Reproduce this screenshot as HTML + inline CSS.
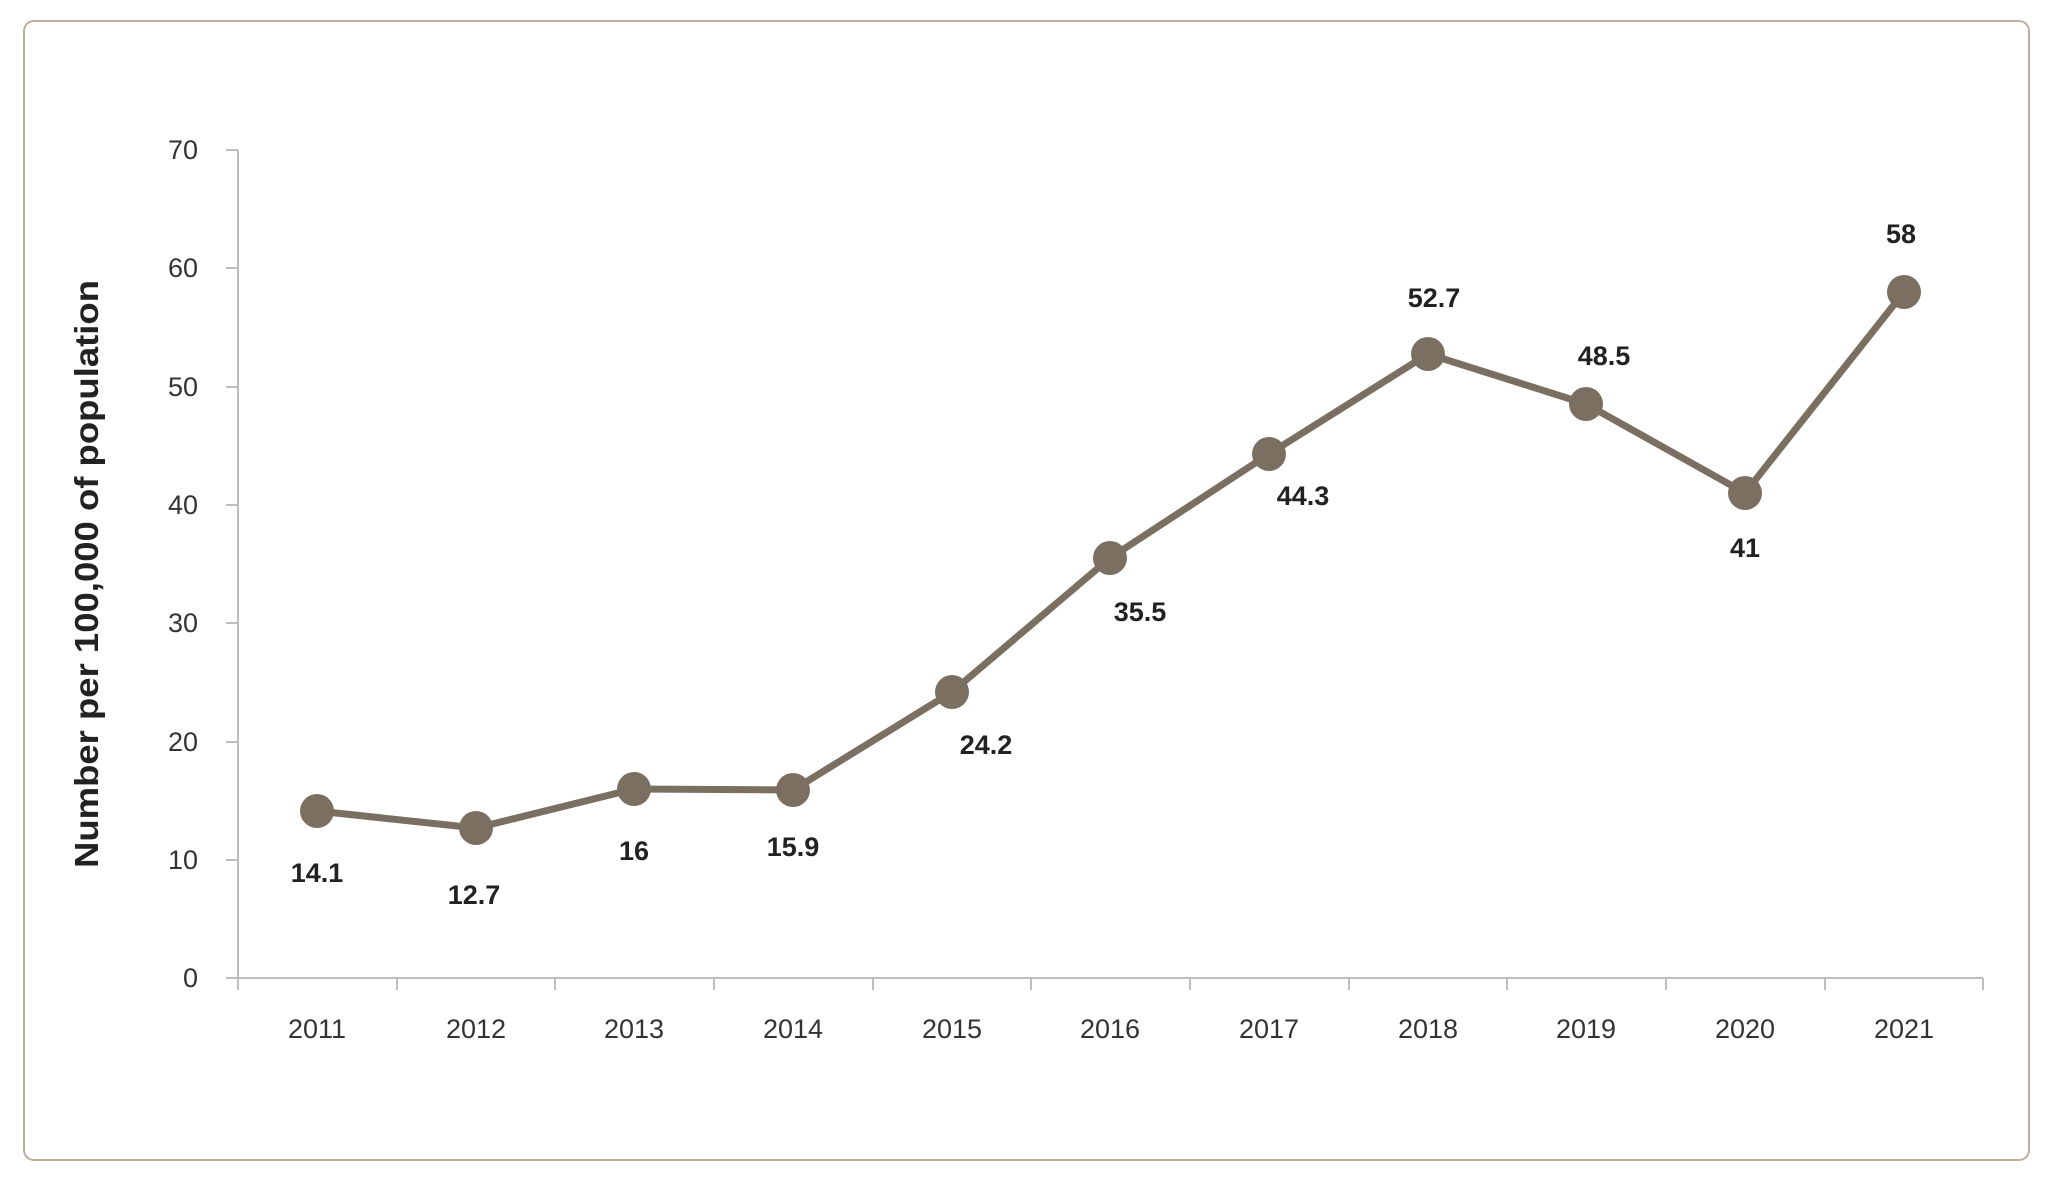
<!DOCTYPE html>
<html><head><style>body{margin:0;background:#fff}</style></head><body>
<svg width="2053" height="1189" xmlns="http://www.w3.org/2000/svg" font-family="'Liberation Sans', sans-serif">
<rect x="24" y="21" width="2005" height="1139" rx="10" fill="#fff" stroke="#bfae9c" stroke-width="2"/>
<g stroke="#bdbdbd" stroke-width="2" fill="none">
<line x1="238" y1="150" x2="238" y2="978"/>
<line x1="238" y1="978" x2="1983" y2="978"/>
<line x1="226" y1="150" x2="238" y2="150"/><line x1="226" y1="268" x2="238" y2="268"/><line x1="226" y1="387" x2="238" y2="387"/><line x1="226" y1="505" x2="238" y2="505"/><line x1="226" y1="623" x2="238" y2="623"/><line x1="226" y1="742" x2="238" y2="742"/><line x1="226" y1="860" x2="238" y2="860"/><line x1="226" y1="978" x2="238" y2="978"/>
<line x1="238" y1="978" x2="238" y2="990"/><line x1="397" y1="978" x2="397" y2="990"/><line x1="555" y1="978" x2="555" y2="990"/><line x1="714" y1="978" x2="714" y2="990"/><line x1="873" y1="978" x2="873" y2="990"/><line x1="1031" y1="978" x2="1031" y2="990"/><line x1="1190" y1="978" x2="1190" y2="990"/><line x1="1349" y1="978" x2="1349" y2="990"/><line x1="1507" y1="978" x2="1507" y2="990"/><line x1="1666" y1="978" x2="1666" y2="990"/><line x1="1825" y1="978" x2="1825" y2="990"/><line x1="1983" y1="978" x2="1983" y2="990"/>
</g>
<g font-size="27" fill="#333" text-anchor="end">
<text x="198" y="159">70</text><text x="198" y="277">60</text><text x="198" y="396">50</text><text x="198" y="514">40</text><text x="198" y="632">30</text><text x="198" y="751">20</text><text x="198" y="869">10</text><text x="198" y="987">0</text>
</g>
<g font-size="27" fill="#333" text-anchor="middle">
<text x="317" y="1038">2011</text><text x="476" y="1038">2012</text><text x="634" y="1038">2013</text><text x="793" y="1038">2014</text><text x="952" y="1038">2015</text><text x="1110" y="1038">2016</text><text x="1269" y="1038">2017</text><text x="1428" y="1038">2018</text><text x="1586" y="1038">2019</text><text x="1745" y="1038">2020</text><text x="1904" y="1038">2021</text>
</g>
<text transform="translate(98,574) rotate(-90)" font-size="33" font-weight="bold" fill="#222" text-anchor="middle" textLength="588" lengthAdjust="spacingAndGlyphs">Number per 100,000 of population</text>
<polyline fill="none" stroke="#7b6f62" stroke-width="7" stroke-linejoin="round" points="317,811 476,828 634,789 793,790 952,692 1110,558 1269,454 1428,354 1586,404 1745,493 1904,292"/>
<g fill="#7b6f62">
<circle cx="317" cy="811" r="17"/><circle cx="476" cy="828" r="17"/><circle cx="634" cy="789" r="17"/><circle cx="793" cy="790" r="17"/><circle cx="952" cy="692" r="17"/><circle cx="1110" cy="558" r="17"/><circle cx="1269" cy="454" r="17"/><circle cx="1428" cy="354" r="17"/><circle cx="1586" cy="404" r="17"/><circle cx="1745" cy="493" r="17"/><circle cx="1904" cy="292" r="17"/>
</g>
<g font-size="27" font-weight="bold" fill="#222" text-anchor="middle">
<text x="317" y="882">14.1</text><text x="474" y="904">12.7</text><text x="634" y="860">16</text><text x="793" y="856">15.9</text><text x="986" y="754">24.2</text><text x="1140" y="621">35.5</text><text x="1303" y="505">44.3</text><text x="1434" y="307">52.7</text><text x="1604" y="365">48.5</text><text x="1745" y="557">41</text><text x="1901" y="243">58</text>
</g>
</svg>
</body></html>
